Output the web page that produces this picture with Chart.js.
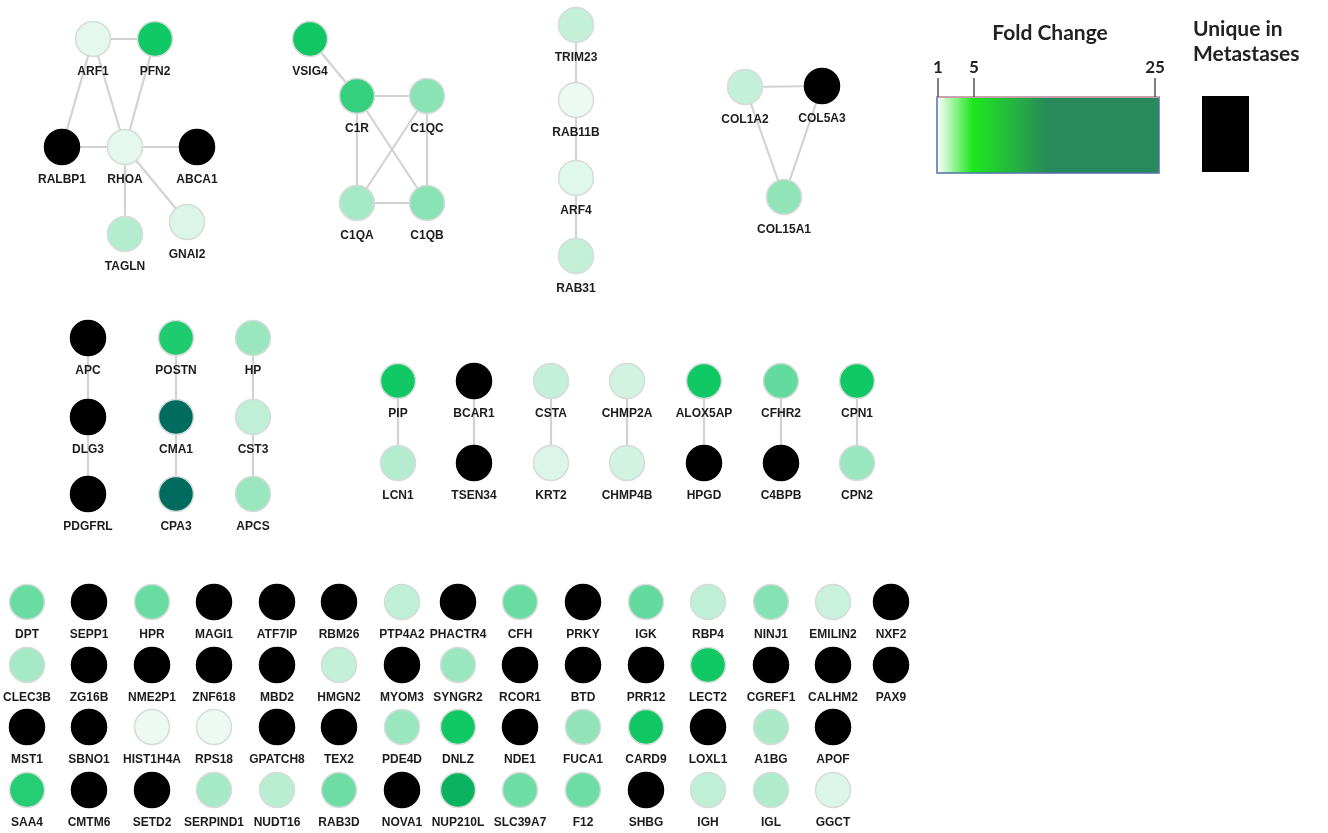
<!DOCTYPE html>
<html>
<head>
<meta charset="utf-8">
<title>Protein network</title>
<script src="https://cdn.jsdelivr.net/npm/chart.js@4/dist/chart.umd.min.js"></script>
<style>
    body { margin: 0; background: #ffffff; }
    #wrap { width: 1328px; height: 833px; }
</style>
</head>
<body>
<div id="wrap"><canvas id="networkChart" width="1328" height="833"></canvas></div>
<script>
// Genes, layout position (px grid) and fold change. null = only found in metastases
const genes = [
    'ARF1', 'PFN2', 'RALBP1', 'RHOA', 'ABCA1', 'TAGLN', 'GNAI2',
    'VSIG4', 'C1R', 'C1QC', 'C1QA', 'C1QB',
    'TRIM23', 'RAB11B', 'ARF4', 'RAB31',
    'COL1A2', 'COL5A3', 'COL15A1',
    'APC', 'DLG3', 'PDGFRL', 'POSTN', 'CMA1', 'CPA3', 'HP', 'CST3', 'APCS',
    'PIP', 'LCN1', 'BCAR1', 'TSEN34', 'CSTA', 'KRT2', 'CHMP2A', 'CHMP4B',
    'ALOX5AP', 'HPGD', 'CFHR2', 'C4BPB', 'CPN1', 'CPN2'
];
const geneX = [
    93, 155, 62, 125, 197, 125, 187,
    310, 357, 427, 357, 427,
    576, 576, 576, 576,
    745, 822, 784,
    88, 88, 88, 176, 176, 176, 253, 253, 253,
    398, 398, 474, 474, 551, 551, 627, 627,
    704, 704, 781, 781, 857, 857
];
const geneY = [
    39, 39, 147, 147, 147, 234, 222,
    39, 96, 96, 203, 203,
    25, 100, 178, 256,
    87, 86, 197,
    338, 417, 494, 338, 417, 494, 338, 417, 494,
    381, 463, 381, 463, 381, 463, 381, 463,
    381, 463, 381, 463, 381, 463
];
const foldChange = [
    1.3, 5.0, null, 1.3, null, 2.3, 1.5,
    5.2, 4.5, 3.1, 2.6, 3.1,
    2.0, 1.1, 1.4, 2.0,
    2.0, null, 3.0,
    null, null, null, 4.8, 25, 25, 2.8, 2.1, 2.8,
    5.0, 2.3, null, null, 2.0, 1.5, 1.7, 1.7,
    5.0, null, 3.8, null, 5.0, 2.8
];

// Interactions
const edges = [
    ['ARF1', 'PFN2'], ['ARF1', 'RALBP1'], ['ARF1', 'RHOA'], ['PFN2', 'RHOA'],
    ['RALBP1', 'RHOA'], ['RHOA', 'ABCA1'], ['RHOA', 'TAGLN'], ['RHOA', 'GNAI2'],
    ['VSIG4', 'C1R'], ['C1R', 'C1QC'], ['C1R', 'C1QA'], ['C1R', 'C1QB'],
    ['C1QC', 'C1QA'], ['C1QC', 'C1QB'], ['C1QA', 'C1QB'],
    ['TRIM23', 'RAB11B'], ['RAB11B', 'ARF4'], ['ARF4', 'RAB31'],
    ['COL1A2', 'COL5A3'], ['COL1A2', 'COL15A1'], ['COL5A3', 'COL15A1'],
    ['APC', 'DLG3'], ['DLG3', 'PDGFRL'], ['POSTN', 'CMA1'], ['CMA1', 'CPA3'],
    ['HP', 'CST3'], ['CST3', 'APCS'],
    ['PIP', 'LCN1'], ['BCAR1', 'TSEN34'], ['CSTA', 'KRT2'], ['CHMP2A', 'CHMP4B'],
    ['ALOX5AP', 'HPGD'], ['CFHR2', 'C4BPB'], ['CPN1', 'CPN2']
];

// Unconnected proteins, laid out on a grid (rows top to bottom)
const gridRows = [
    ['DPT', 'SEPP1', 'HPR', 'MAGI1', 'ATF7IP', 'RBM26', 'PTP4A2', 'PHACTR4', 'CFH', 'PRKY', 'IGK', 'RBP4', 'NINJ1', 'EMILIN2', 'NXF2'],
    ['CLEC3B', 'ZG16B', 'NME2P1', 'ZNF618', 'MBD2', 'HMGN2', 'MYOM3', 'SYNGR2', 'RCOR1', 'BTD', 'PRR12', 'LECT2', 'CGREF1', 'CALHM2', 'PAX9'],
    ['MST1', 'SBNO1', 'HIST1H4A', 'RPS18', 'GPATCH8', 'TEX2', 'PDE4D', 'DNLZ', 'NDE1', 'FUCA1', 'CARD9', 'LOXL1', 'A1BG', 'APOF'],
    ['SAA4', 'CMTM6', 'SETD2', 'SERPIND1', 'NUDT16', 'RAB3D', 'NOVA1', 'NUP210L', 'SLC39A7', 'F12', 'SHBG', 'IGH', 'IGL', 'GGCT']
];
const gridFold = [
    [3.7, null, 3.7, null, null, null, 2.1, null, 3.7, null, 3.8, 2.1, 3.2, 1.9, null],
    [2.6, null, null, null, null, 2.0, null, 2.8, null, null, null, 5.0, null, null, null],
    [null, null, 1.1, 1.1, null, null, 2.8, 5.0, null, 3.0, 5.1, null, 2.5, null],
    [4.7, null, null, 2.6, 2.2, 3.6, null, 8.0, 3.6, 3.6, null, 2.1, 2.4, 1.5]
];
const gridColX = [27, 89, 152, 214, 277, 339, 402, 458, 520, 583, 646, 708, 771, 833, 891];
const gridRowY = [602, 665, 727, 790];

// Legend scale
const legendTicks = ['1', '5', '25'];

// fold change -> node colour
const foldStops = [1, 2, 3, 4, 5, 10, 25];
const foldColors = ['#f2fbf6', '#c4f0da', '#90e4b8', '#58d898', '#10c864', '#07a55f', '#006b5e'];

function hexToRgb(h) {
    const n = parseInt(h.slice(1), 16);
    return [(n >> 16) & 255, (n >> 8) & 255, n & 255];
}

function foldColor(fc) {
    if (fc === null) return '#000000';
    if (fc <= foldStops[0]) return foldColors[0];
    for (let i = 1; i < foldStops.length; i++) {
        if (fc <= foldStops[i]) {
            const t = (fc - foldStops[i - 1]) / (foldStops[i] - foldStops[i - 1]);
            const a = hexToRgb(foldColors[i - 1]);
            const b = hexToRgb(foldColors[i]);
            const c = a.map((v, k) => Math.round(v + (b[k] - v) * t));
            return `rgb(${c[0]},${c[1]},${c[2]})`;
        }
    }
    return foldColors[foldColors.length - 1];
}

// all nodes in one list
const nodes = genes.map((g, i) => ({ x: geneX[i], y: geneY[i], name: g, fc: foldChange[i] }));
gridRows.forEach((row, r) => {
    row.forEach((g, c) => {
        nodes.push({ x: gridColX[c], y: gridRowY[r], name: g, fc: gridFold[r][c] });
    });
});

const byName = {};
nodes.forEach(n => { byName[n.name] = n; });

const edgeDatasets = edges.map(([a, b]) => ({
    type: 'line',
    data: [{ x: byName[a].x, y: byName[a].y }, { x: byName[b].x, y: byName[b].y }],
    borderColor: '#d2d2d2',
    borderWidth: 2.2,
    pointRadius: 0,
    fill: false,
    order: 2
}));

// gene names under each node + the colour legend
const labelPlugin = {
    id: 'geneLabels',
    afterDatasetsDraw(chart) {
        const ctx = chart.ctx;
        const meta = chart.getDatasetMeta(chart.data.datasets.length - 1);
        ctx.save();
        ctx.fillStyle = '#1c1c1c';
        ctx.font = 'bold 12px "Liberation Sans", Arial, sans-serif';
        ctx.textAlign = 'center';
        ctx.textBaseline = 'middle';
        meta.data.forEach((pt, i) => {
            ctx.fillText(nodes[i].name, pt.x, pt.y + 33);
        });

        const xs = chart.scales.x;
        const ys = chart.scales.y;
        const left = xs.getPixelForValue(937), right = xs.getPixelForValue(1159);
        const top = ys.getPixelForValue(97), bottom = ys.getPixelForValue(173);

        // Fold Change title
        ctx.fillStyle = '#222222';
        ctx.font = 'bold 21px Lato, "Open Sans", sans-serif';
        ctx.fillText('Fold Change', xs.getPixelForValue(1050), ys.getPixelForValue(33));

        // gradient bar
        const grad = ctx.createLinearGradient(left, 0, right, 0);
        grad.addColorStop(0, '#ffffff');
        grad.addColorStop(0.16, '#1de81e');
        grad.addColorStop(0.5, '#28895a');
        grad.addColorStop(1, '#28895a');
        ctx.fillStyle = grad;
        ctx.fillRect(left, top, right - left, bottom - top);
        ctx.strokeStyle = '#4f72a8';
        ctx.lineWidth = 1.5;
        ctx.strokeRect(left, top, right - left, bottom - top);
        ctx.strokeStyle = '#e8a4ac';
        ctx.beginPath();
        ctx.moveTo(left, top);
        ctx.lineTo(right, top);
        ctx.stroke();

        // ticks 1 / 5 / 25
        const tickX = [938, 974, 1155];
        ctx.strokeStyle = '#555555';
        ctx.lineWidth = 1.5;
        ctx.fillStyle = '#222222';
        ctx.font = 'bold 17px Lato, "Open Sans", sans-serif';
        legendTicks.forEach((t, i) => {
            const px = xs.getPixelForValue(tickX[i]);
            ctx.beginPath();
            ctx.moveTo(px, ys.getPixelForValue(78));
            ctx.lineTo(px, top);
            ctx.stroke();
            ctx.fillText(t, px, ys.getPixelForValue(68));
        });

        // unique in metastases
        ctx.textAlign = 'left';
        ctx.font = 'bold 21px Lato, "Open Sans", sans-serif';
        ctx.fillText('Unique in', xs.getPixelForValue(1193), ys.getPixelForValue(29));
        ctx.fillText('Metastases', xs.getPixelForValue(1193), ys.getPixelForValue(54));
        ctx.fillStyle = '#000000';
        ctx.fillRect(xs.getPixelForValue(1202), ys.getPixelForValue(96), 47, 76);
        ctx.restore();
    }
};

const ctx = document.getElementById('networkChart').getContext('2d');

new Chart(ctx, {
    type: 'scatter',
    data: {
        datasets: [
            ...edgeDatasets,
            {
                type: 'scatter',
                data: nodes.map(n => ({ x: n.x, y: n.y })),
                pointRadius: 17.5,
                pointBackgroundColor: nodes.map(n => foldColor(n.fc)),
                pointBorderColor: nodes.map(n => n.fc === null ? '#000000' : '#d6dcd9'),
                pointBorderWidth: 1.5,
                order: 1
            }
        ]
    },
    options: {
        responsive: false,
        animation: false,
        events: [],
        layout: { padding: 0, autoPadding: false },
        plugins: {
            legend: { display: false },
            tooltip: { enabled: false }
        },
        scales: {
            x: { type: 'linear', min: 0, max: 1328, display: false },
            y: { type: 'linear', min: 0, max: 833, reverse: true, display: false }
        }
    },
    plugins: [labelPlugin]
});
</script>
</body>
</html>
